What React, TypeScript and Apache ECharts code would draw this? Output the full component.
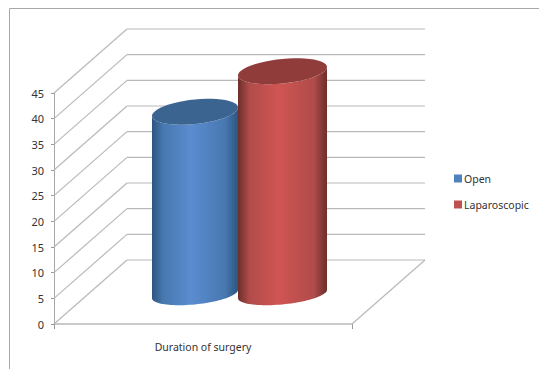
import React, { useEffect, useRef } from "react";
import * as echarts from "echarts";

const categories = ["Duration of surgery"];
const seriesNames = ["Open", "Laparoscopic"];
const openValues = [35.5];
const laparoscopicValues = [43.4];
const tickValues = [0, 5, 10, 15, 20, 25, 30, 35, 40, 45];

// Oblique projection of the chart box: how far the back wall sits from the front plane.
const DEPTH_X = 73;
const DEPTH_Y = 64;
const FONT = "'Noto Sans', sans-serif";
const LINE = "#b9b9b9";

type Palette = { edge: string; base: string; mid: string; top: string };

const palettes: Palette[] = [
  { edge: "#2c5580", base: "#4878b0", mid: "#5a8cd0", top: "#3c6490" },
  { edge: "#6c2e2c", base: "#b04c4a", mid: "#d05553", top: "#8f3c3a" },
];

// Horizontal placement and half width of each cylinder around the mid-depth category centre.
const cylinderShift = [-43.5, 44];
const cylinderHalfWidth = [43, 44.5];

function wallsRenderItem(params: any, api: any) {
  const value = api.value(0);
  const sys = params.coordSys;
  const y = api.coord([0, value])[1];
  const left = sys.x;
  const right = sys.x + sys.width;
  const lineStyle = { stroke: LINE, lineWidth: 1.2, fill: "none" };
  const children: any[] = [
    { type: "line", shape: { x1: left, y1: y, x2: left + DEPTH_X, y2: y - DEPTH_Y }, style: lineStyle },
    { type: "line", shape: { x1: left + DEPTH_X, y1: y - DEPTH_Y, x2: right + DEPTH_X, y2: y - DEPTH_Y }, style: lineStyle },
  ];
  if (value === 0) {
    children.push({ type: "line", shape: { x1: right, y1: y, x2: right + DEPTH_X, y2: y - DEPTH_Y }, style: lineStyle });
  }
  return { type: "group", children };
}

// Point on a sheared ellipse whose leftmost and rightmost points stay on the cylinder's edges.
function rimPoint(cx: number, cy: number, a: number, b: number, tilt: number, t: number) {
  return [cx + a * Math.cos(t), cy + b * Math.sin(t) - tilt * Math.cos(t)];
}

function rimPath(cx: number, cy: number, a: number, b: number, tilt: number, from: number, to: number) {
  const steps = 48;
  const pts: string[] = [];
  for (let i = 0; i <= steps; i++) {
    const [x, y] = rimPoint(cx, cy, a, b, tilt, from + ((to - from) * i) / steps);
    pts.push(`${x.toFixed(2)} ${y.toFixed(2)}`);
  }
  return pts;
}

function cylinderRenderItem(index: number) {
  return (params: any, api: any) => {
    const top = api.coord([0, api.value(1)]);
    const base = api.coord([0, 0]);
    const palette = palettes[index];
    const cx = top[0] + DEPTH_X / 2 - 1 + cylinderShift[index];
    const rise = 30;
    const yTop = top[1] - rise;
    const yBase = base[1] - rise;
    const a = cylinderHalfWidth[index];
    const tilt = 4.2;
    const bTop = 12.3;
    const bBase = 10.4;
    // Front of the base rim (left to right, under) and front of the top rim (right to left).
    const baseFront = rimPath(cx, yBase, a, bBase, tilt, Math.PI, 0);
    const topFront = rimPath(cx, yTop, a, bTop, tilt, 0, Math.PI);
    const body = "M " + [...baseFront, ...topFront].join(" L ") + " Z";
    const cap = "M " + rimPath(cx, yTop, a, bTop, tilt, 0, Math.PI * 2).join(" L ") + " Z";
    return {
      type: "group",
      children: [
        {
          type: "path",
          shape: { pathData: body },
          style: {
            fill: new echarts.graphic.LinearGradient(0, 0, 1, 0, [
              { offset: 0, color: palette.edge },
              { offset: 0.13, color: palette.base },
              { offset: 0.45, color: palette.mid },
              { offset: 0.85, color: palette.base },
              { offset: 1, color: palette.edge },
            ]),
          },
        },
        { type: "path", shape: { pathData: cap }, style: { fill: palette.top } },
      ],
    };
  };
}

export default function App() {
  const ref = useRef<HTMLDivElement>(null);

  useEffect(() => {
    document.body.style.margin = "0";
    const chart = echarts.init(ref.current!, undefined, { renderer: "svg" });
    chart.setOption({
      animation: false,
      backgroundColor: "#ffffff",
      textStyle: { fontFamily: FONT },
      grid: { left: 54, top: 93, width: 298, height: 231, containLabel: false },
      xAxis: {
        type: "category",
        data: categories,
        axisLine: { lineStyle: { color: LINE, width: 1.5 } },
        axisTick: { show: true, length: 5, alignWithLabel: false, lineStyle: { color: "#999999" } },
        axisLabel: { color: "#333333", fontSize: 10.5, margin: 17, fontFamily: FONT },
      },
      yAxis: {
        type: "value",
        min: 0,
        max: 45,
        interval: 5,
        splitLine: { show: false },
        axisLine: { show: true, lineStyle: { color: "#a8a8a8", width: 1 } },
        axisTick: { show: true, length: 3, lineStyle: { color: "#999999" } },
        axisLabel: { color: "#333333", fontSize: 11, margin: 10, fontFamily: FONT },
      },
      legend: {
        orient: "vertical",
        left: 449,
        top: 168,
        icon: "rect",
        itemWidth: 8,
        itemHeight: 8,
        itemGap: 15,
        data: seriesNames,
        textStyle: { color: "#333333", fontSize: 10.5, fontFamily: FONT, padding: [0, 0, 0, -3] },
      },
      graphic: [
        { type: "line", shape: { x1: 9.5, y1: 8.5, x2: 539, y2: 8.5 }, style: { stroke: "#a8a8a8", lineWidth: 1 } },
        { type: "line", shape: { x1: 9.5, y1: 8.5, x2: 9.5, y2: 369 }, style: { stroke: "#a8a8a8", lineWidth: 1 } },
      ],
      series: [
        {
          type: "custom",
          name: "walls",
          data: tickValues.map((v) => [v]),
          encode: { y: 0 },
          renderItem: wallsRenderItem,
          z: 1,
          silent: true,
        },
        {
          type: "custom",
          name: seriesNames[0],
          data: openValues.map((v, i) => [i, v]),
          encode: { x: 0, y: 1 },
          renderItem: cylinderRenderItem(0),
          itemStyle: { color: "#4f81bd" },
          z: 2,
        },
        {
          type: "custom",
          name: seriesNames[1],
          data: laparoscopicValues.map((v, i) => [i, v]),
          encode: { x: 0, y: 1 },
          renderItem: cylinderRenderItem(1),
          itemStyle: { color: "#c0504d" },
          z: 3,
        },
      ],
    });
    return () => chart.dispose();
  }, []);

  return <div ref={ref} style={{ width: 539, height: 369 }} />;
}
